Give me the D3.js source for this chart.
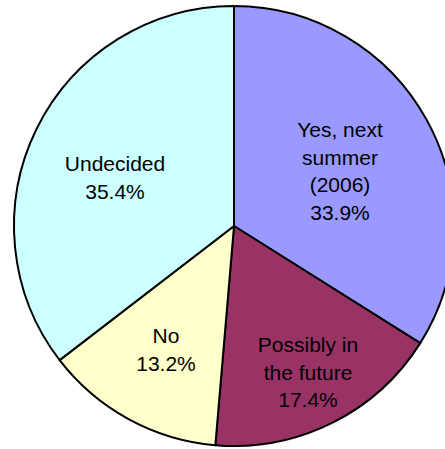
<!DOCTYPE html>
<html>
<head>
<meta charset="utf-8">
<script src="https://cdn.jsdelivr.net/npm/d3@7/dist/d3.min.js"></script>
<style>
  html, body { margin: 0; padding: 0; background: #fff; }
  svg { display: block; }
</style>
</head>
<body>
<svg id="chart" width="445" height="449"></svg>
<script>
// Data
const categories = ["Yes, next summer (2006)", "Possibly in the future", "No", "Undecided"];
const values = [33.9, 17.4, 13.2, 35.4];
const labelLines = [
  ["Yes, next", "summer", "(2006)", "33.9%"],
  ["Possibly in", "the future", "17.4%"],
  ["No", "13.2%"],
  ["Undecided", "35.4%"]
];

// Styles / layout
const colors = ["#9999FF", "#993366", "#FFFFCC", "#CCFFFF"];
const cx = 234, cy = 226, radius = 220;
// first-line baseline anchor, relative to pie centre
const labelAnchors = [[106, -89], [74, 126], [-68, 117], [-119, -55]];
const lineHeight = 27.5;

const svg = d3.select("#chart");
const g = svg.append("g").attr("transform", `translate(${cx},${cy})`);

const pie = d3.pie().sort(null).value(d => d);
const arc = d3.arc().innerRadius(0).outerRadius(radius);
const arcs = pie(values);

g.selectAll("path.slice")
  .data(arcs)
  .join("path")
  .attr("class", "slice")
  .attr("d", arc)
  .attr("fill", (d, i) => colors[i])
  .attr("stroke", "#000")
  .attr("stroke-width", 2)
  .attr("stroke-linejoin", "round");

const labels = g.selectAll("text.lbl")
  .data(arcs)
  .join("text")
  .attr("class", "lbl")
  .attr("text-anchor", "middle")
  .attr("font-family", "Arial, 'Liberation Sans', sans-serif")
  .attr("font-size", 21)
  .attr("fill", "#000");

labels.each(function(d, i) {
  const t = d3.select(this);
  labelLines[i].forEach((line, j) => {
    t.append("tspan")
      .attr("x", labelAnchors[i][0])
      .attr("y", labelAnchors[i][1] + j * lineHeight)
      .text(line);
  });
});
</script>
</body>
</html>
